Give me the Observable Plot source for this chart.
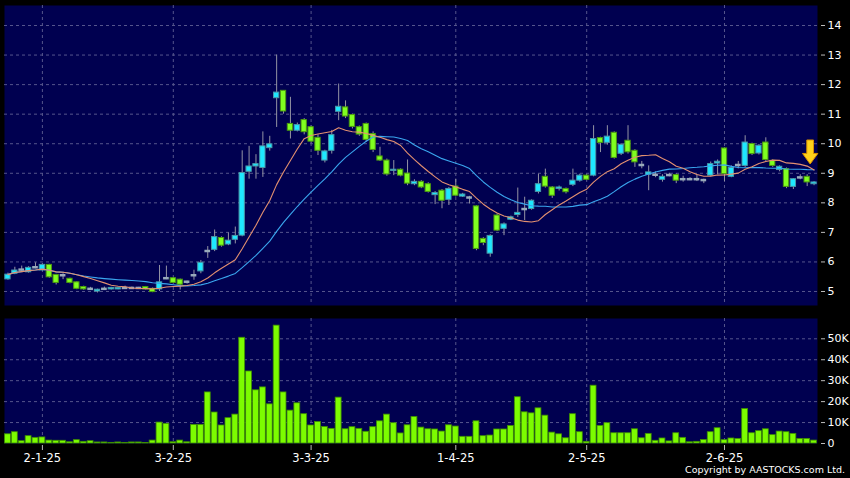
<!DOCTYPE html>
<html><head><meta charset="utf-8">
<script src="https://cdn.jsdelivr.net/npm/d3@7"></script>
<script src="https://cdn.jsdelivr.net/npm/@observablehq/plot@0.6"></script>
<style>
html,body{margin:0;padding:0;background:#000;}
#chart{position:relative;width:850px;height:478px;background:#000;overflow:hidden;font-family:"DejaVu Sans",sans-serif;}
#chart svg{display:block;}
#copy{position:absolute;right:5px;top:464px;color:#fff;font-size:9.5px;font-family:"DejaVu Sans",sans-serif;white-space:nowrap;}
</style></head><body><div id="chart"></div>
<script>
// ---- data ----
const openP  = [5.41,5.60,5.74,5.65,5.82,5.71,5.90,5.56,5.55,5.43, 5.31,5.15,5.09,5.00,5.09,5.07,5.07,5.12,5.12,5.12, 5.15,5.09,5.07,5.45,5.45,5.40,5.33,5.55,5.68,6.37, 6.41,6.81,6.59,6.75,6.89,9.05,9.23,9.18,9.85,11.54, 11.79,10.67,10.44,10.80,10.56,10.20,9.43,9.76,11.08,11.23, 10.97,10.56,10.67,10.33,9.57,9.43,9.08,9.12,8.99,8.63, 8.71,8.63,8.26,8.41,8.10,8.55,8.21,8.18,7.88,6.78, 6.28,7.57,7.12,7.43,7.59,7.79,7.79,8.37,8.88,8.52, 8.47,8.47,8.61,8.75,8.92,8.92,10.19,10.03,10.37,9.66, 10.10,9.76,9.28,8.95,8.95,8.78,8.94,8.94,8.80,8.80, 8.80,8.77,8.92,9.33,9.84,8.88,9.28,9.25,9.99,9.67, 10.04,9.42,9.11,9.14,8.54,8.86,8.88,8.63];
const highP  = [5.62,5.82,5.86,5.84,5.97,5.93,5.92,5.58,5.60,5.45, 5.33,5.18,5.14,5.08,5.15,5.14,5.14,5.18,5.15,5.14, 5.17,5.12,5.88,5.86,5.47,5.42,5.35,5.72,6.05,6.52, 7.08,6.85,6.98,7.18,9.76,9.91,9.63,10.40,10.25,13.00, 11.80,11.57,10.70,10.85,10.60,10.30,9.78,10.45,12.02,11.45, 11.00,10.60,10.70,10.40,9.88,9.48,9.43,9.15,9.45,8.78, 8.75,8.68,8.38,8.45,8.52,8.80,8.32,8.22,7.90,6.82, 6.92,7.62,7.32,7.55,8.50,8.19,8.10,8.97,9.14,8.55, 8.57,8.50,9.14,8.97,8.95,10.61,10.22,10.61,10.40,10.00, 10.61,9.80,9.40,9.25,9.05,8.95,9.00,8.98,8.90,8.85, 8.95,8.80,9.38,9.45,9.86,9.25,9.40,10.27,10.02,9.97, 10.20,9.45,9.25,9.18,8.82,8.95,8.95,8.72];
const lowP   = [5.38,5.57,5.68,5.62,5.77,5.69,5.45,5.22,5.40,5.26, 5.06,5.04,5.05,4.95,5.05,5.05,5.06,5.08,5.09,5.08, 5.05,4.96,5.00,5.40,5.27,5.05,5.25,5.38,5.60,6.12, 6.35,6.50,6.55,6.61,6.85,8.80,8.80,8.86,9.75,10.55, 11.00,10.16,10.40,10.30,10.00,9.60,9.35,9.65,10.78,10.85, 10.50,10.25,10.05,9.70,9.40,8.90,8.92,8.88,8.58,8.58, 8.48,8.33,7.94,7.80,7.91,8.20,8.18,7.96,6.38,6.55, 6.16,7.03,6.89,7.40,7.50,7.40,7.75,8.30,8.50,8.15, 8.40,8.30,8.55,8.70,8.75,8.88,9.70,9.95,9.48,9.60, 9.65,9.20,9.15,8.41,8.85,8.70,8.88,8.65,8.70,8.75, 8.72,8.65,8.88,8.95,8.72,8.85,9.15,9.20,9.60,9.62, 9.40,9.20,9.05,8.48,8.45,8.78,8.55,8.58];
const closeP = [5.57,5.71,5.74,5.80,5.82,5.90,5.48,5.29,5.55,5.29, 5.09,5.07,5.09,5.06,5.09,5.12,5.12,5.12,5.12,5.12, 5.07,4.98,5.31,5.45,5.29,5.23,5.33,5.55,5.97,6.37, 6.84,6.55,6.72,6.88,9.01,9.23,9.31,9.91,9.98,11.73, 11.09,10.44,10.63,10.39,10.07,9.76,9.74,10.29,11.25,10.92, 10.57,10.31,10.13,9.79,9.43,8.96,9.12,8.92,8.65,8.71, 8.52,8.37,8.33,8.07,8.47,8.24,8.28,8.18,6.44,6.64, 6.88,7.06,7.27,7.51,7.66,7.79,8.07,8.63,8.55,8.24, 8.52,8.36,8.75,8.92,8.78,10.16,10.03,10.24,9.52,9.96, 9.71,9.37,9.28,9.03,8.95,8.88,8.94,8.75,8.80,8.80, 8.80,8.77,9.31,9.39,8.97,9.18,9.28,10.04,9.65,9.93, 9.45,9.25,9.22,8.54,8.80,8.86,8.69,8.69];
const volumeK = [4.4,5.4,1.1,3.5,2.7,2.9,1.4,1.3,1.3,0.6, 1.6,0.8,1.1,0.5,0.5,0.3,0.5,0.3,0.5,0.5, 0.2,1.4,10.0,9.4,0.6,1.4,0.6,8.9,8.9,24.4, 14.8,8.6,12.1,13.8,50.5,34.4,25.4,26.8,18.7,56.3, 24.4,15.7,19.2,14.0,8.6,10.3,7.9,7.0,21.9,6.8, 7.8,7.0,5.6,7.8,10.6,13.8,9.7,4.8,8.7,12.7, 7.6,6.8,6.7,5.7,8.7,8.1,3.2,3.2,10.6,3.5, 3.8,6.7,6.7,8.4,22.1,14.9,14.4,16.8,13.3,5.2, 4.4,2.5,14.0,5.4,0.8,27.6,8.4,9.7,4.9,4.9, 4.9,6.8,2.5,4.6,1.3,2.4,1.0,4.9,2.7,0.6, 0.8,1.7,5.4,7.3,1.6,2.4,2.2,16.5,4.9,5.9, 6.8,4.0,5.7,5.4,4.6,2.2,2.2,1.4];
const tickIndex  = [5, 24, 44, 65, 84, 104];
const tickLabels = ["2-1-25", "3-2-25", "3-3-25", "1-4-25", "2-5-25", "2-6-25"];
const priceTicks = [5,6,7,8,9,10,11,12,13,14];
const volumeTicks = [0,10,20,30,40,50];
const maShort = 10, maLong = 20;
const arrowAt = [{index: 116, price: 9.72}];

// ---- styles ----
const PANEL = "#000050", GRID = "#55558c", UP = "#1ee8ff", UPS = "#4a98a8",
      DOWN = "#80ff20", DOWNS = "#4c9a10", DOJI = "#98aabb", WICK = "#9494a4",
      MA1 = "#e39070", MA2 = "#3aa6ee", VOL = "#7cfc00", VOLS = "#3e8e00";

const N = closeP.length;
const rows = closeP.map((c, i) => ({i, open: openP[i], high: highP[i], low: lowP[i], close: c, volume: volumeK[i]}));
const bodies = rows.filter(d => d.open !== d.close);
const dojis = rows.filter(d => d.open === d.close);
const xScale = {type: "band", domain: d3.range(N), padding: 0};
const style = {background: "transparent", color: "white", fontFamily: "DejaVu Sans, sans-serif", fontSize: "11px", overflow: "visible"};

const arrowSymbol = {draw(ctx, size) {
  const r = Math.sqrt(size / Math.PI), sw = 0.28 * r, hw = 0.64 * r, hy = 0.12 * r;
  ctx.moveTo(-sw, -r); ctx.lineTo(sw, -r); ctx.lineTo(sw, hy); ctx.lineTo(hw, hy);
  ctx.lineTo(0, r); ctx.lineTo(-hw, hy); ctx.lineTo(-sw, hy); ctx.closePath();
}};

const price = Plot.plot({
  width: 850, height: 310, marginTop: 5, marginBottom: 5, marginLeft: 4, marginRight: 33,
  style,
  x: {...xScale, axis: null},
  y: {domain: [4.526, 14.677]},
  marks: [
    Plot.frame({fill: PANEL, stroke: "none"}),
    Plot.gridY(priceTicks, {stroke: GRID, strokeOpacity: 1, strokeDasharray: "3,3"}),
    Plot.gridX(tickIndex, {stroke: GRID, strokeOpacity: 1, strokeDasharray: "3,3"}),
    Plot.ruleX(rows, {x: "i", y1: "low", y2: "high", stroke: WICK, strokeWidth: 1}),
    Plot.barY(bodies, {x: "i", y1: "open", y2: "close",
      fill: d => d.close > d.open ? UP : DOWN,
      stroke: d => d.close > d.open ? UPS : DOWNS, strokeWidth: 1,
      insetLeft: 0.8, insetRight: 0.8}),
    Plot.tickY(dojis, {x: "i", y: "close", stroke: DOJI, strokeWidth: 2.5, insetLeft: 0.6, insetRight: 0.6}),
    Plot.lineY(rows, Plot.windowY({k: maLong, anchor: "end"}, {x: "i", y: "close", stroke: MA2, strokeWidth: 1.1})),
    Plot.lineY(rows, Plot.windowY({k: maShort, anchor: "end"}, {x: "i", y: "close", stroke: MA1, strokeWidth: 1.1})),
    Plot.dot(arrowAt, {x: "index", y: "price", r: 12, symbol: arrowSymbol, fill: "#ffd21a", stroke: "#d89000", strokeWidth: 1, dx: 3}),
    Plot.axisY(priceTicks, {anchor: "right", label: null, tickSize: 4, tickPadding: 3, stroke: "#bbbbbb", fill: "white", dx: 3, tickFormat: d => String(d)})
  ]
});

const vol = Plot.plot({
  width: 850, height: 168, marginTop: 8, marginBottom: 35, marginLeft: 4, marginRight: 33,
  style,
  x: {...xScale, label: null},
  y: {domain: [0, 59.7], label: null},
  marks: [
    Plot.frame({fill: PANEL, stroke: "none"}),
    Plot.gridY(volumeTicks.filter(d => d > 0), {stroke: GRID, strokeOpacity: 1, strokeDasharray: "3,3"}),
    Plot.gridX(tickIndex, {stroke: GRID, strokeOpacity: 1, strokeDasharray: "3,3"}),
    Plot.barY(rows, {x: "i", y: "volume", fill: VOL, stroke: VOLS, strokeWidth: 0.8, insetLeft: 0.5, insetRight: 0.5}),
    Plot.axisY(volumeTicks, {anchor: "right", label: null, tickSize: 4, tickPadding: 3, stroke: "#bbbbbb", fill: "white", dx: 3, tickFormat: d => d === 0 ? "0" : d + "K"}),
    Plot.axisX(tickIndex, {anchor: "bottom", label: null, tickSize: 5, tickPadding: 3, stroke: "#bbbbbb", fill: "white", fontSize: 11.5, dy: 2,
      tickFormat: d => tickLabels[tickIndex.indexOf(d)]})
  ]
});

const chart = document.getElementById("chart");
chart.appendChild(price);
chart.appendChild(vol);
const copy = document.createElement("div");
copy.id = "copy";
copy.textContent = "Copyright by AASTOCKS.com Ltd.";
chart.appendChild(copy);
</script></body></html>
